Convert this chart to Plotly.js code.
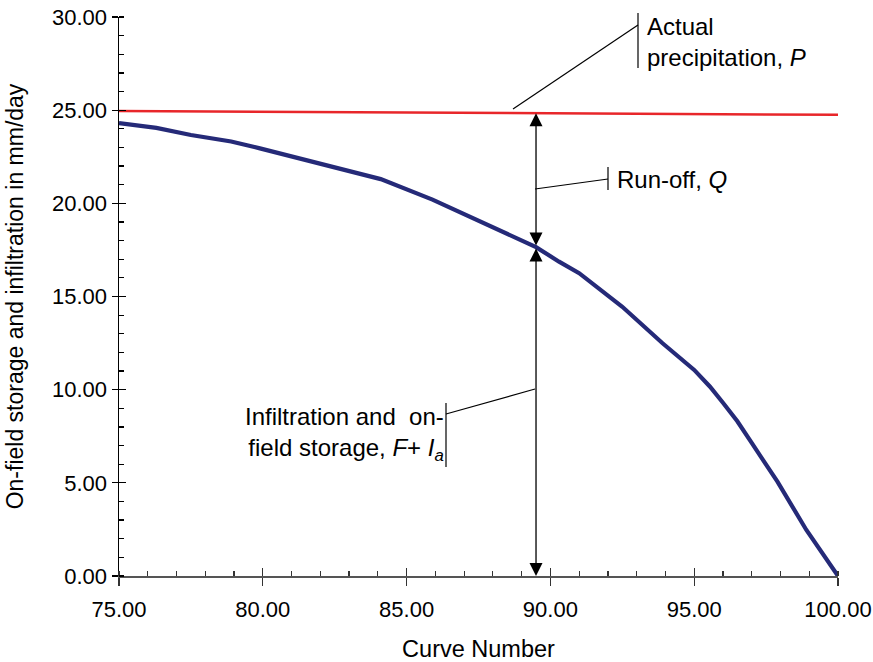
<!DOCTYPE html>
<html>
<head>
<meta charset="utf-8">
<script src="https://cdn.plot.ly/plotly-3.0.1.min.js"></script>
<style>html,body{margin:0;padding:0;background:#fff;}#chart{width:873px;height:662px;}</style>
</head>
<body>
<div id="chart"></div>
<script>
// ---- data ----
const curveNumber = [75, 76.3, 77.5, 78.9, 79.9, 82.0, 84.1, 85.9, 87.8, 89.5, 90.3, 91.0, 92.5, 93.9, 95.0, 95.55, 96.0, 96.5, 97.0, 97.9, 98.9, 100];
const infiltration = [24.31, 24.05, 23.67, 23.32, 22.95, 22.15, 21.3, 20.2, 18.84, 17.65, 16.87, 16.25, 14.45, 12.49, 11.06, 10.16, 9.3, 8.3, 7.14, 5.05, 2.47, 0];
const precipX = [75, 100];
const precipY = [24.95, 24.75];
const markerCN = 89.5;
const xTickLabels = ['75.00', '80.00', '85.00', '90.00', '95.00', '100.00'];
const yTickLabels = ['0.00', '5.00', '10.00', '15.00', '20.00', '25.00', '30.00'];

function interp(xs, ys, x) {
  for (let i = 0; i < xs.length - 1; i++) {
    if (x >= xs[i] && x <= xs[i + 1]) {
      const t = (x - xs[i]) / (xs[i + 1] - xs[i]);
      return ys[i] + t * (ys[i + 1] - ys[i]);
    }
  }
  return ys[ys.length - 1];
}
const curveAtMarker = interp(curveNumber, infiltration, markerCN);
const pAtMarker = interp(precipX, precipY, markerCN);

const FONT = '"Liberation Sans", Arial, Helvetica, sans-serif';
const px = v => (v - 119) / 719;      // pixel -> paper x
const py = v => (576 - v) / 559;      // pixel -> paper y

const traces = [
  {x: precipX, y: precipY, type: 'scatter', mode: 'lines', line: {color: '#e8262a', width: 2.5}, hoverinfo: 'skip'},
  {x: curveNumber, y: infiltration, type: 'scatter', mode: 'lines', line: {color: '#252a78', width: 4.2}, hoverinfo: 'skip'},
  {x: [], y: [], xaxis: 'x2', yaxis: 'y', type: 'scatter', showlegend: false},
  {x: [], y: [], xaxis: 'x', yaxis: 'y2', type: 'scatter', showlegend: false}
];

const xVals = xTickLabels.map(Number);
const yVals = yTickLabels.map(Number);

const lineBlack = {color: '#000', width: 1.2};
const shapes = [
  // Precipitation callout
  {type: 'line', xref: 'paper', yref: 'paper', x0: px(638), x1: px(638), y0: py(13), y1: py(68), line: lineBlack},
  {type: 'line', xref: 'paper', yref: 'paper', x0: px(513), y0: py(109), x1: px(638), y1: py(25), line: lineBlack},
  // Run-off callout
  {type: 'line', xref: 'paper', yref: 'paper', x0: px(608), x1: px(608), y0: py(167), y1: py(190), line: lineBlack},
  {type: 'line', xref: 'paper', yref: 'paper', x0: px(535), y0: py(189), x1: px(608), y1: py(179), line: lineBlack},
  // Infiltration callout
  {type: 'line', xref: 'paper', yref: 'paper', x0: px(446), x1: px(446), y0: py(403), y1: py(467), line: lineBlack},
  {type: 'line', xref: 'paper', yref: 'paper', x0: px(446), y0: py(414), x1: px(535), y1: py(389), line: lineBlack}
];

const annFont = {family: FONT, size: 24, color: '#000'};
const annotations = [
  // Run-off arrow (curve -> P)
  {x: markerCN, y: pAtMarker, ax: markerCN, ay: curveAtMarker, xref: 'x', yref: 'y', axref: 'x', ayref: 'y',
   text: '', showarrow: true, arrowhead: 2, arrowside: 'end+start', arrowsize: 2, arrowwidth: 1.3, arrowcolor: '#000', standoff: 0, startstandoff: 0},
  // Infiltration arrow (0 -> curve)
  {x: markerCN, y: 0, ax: markerCN, ay: curveAtMarker, xref: 'x', yref: 'y', axref: 'x', ayref: 'y',
   text: '', showarrow: true, arrowhead: 2, arrowside: 'end+start', arrowsize: 2, arrowwidth: 1.3, arrowcolor: '#000', standoff: 0, startstandoff: 0},
  {xref: 'paper', yref: 'paper', x: px(645), y: py(42), xanchor: 'left', yanchor: 'middle', align: 'left', showarrow: false,
   text: 'Actual<br>precipitation, <i>P</i>', font: annFont},
  {xref: 'paper', yref: 'paper', x: px(615), y: py(179), xanchor: 'left', yanchor: 'middle', align: 'left', showarrow: false,
   text: 'Run-off, <i>Q</i>', font: annFont},
  {xref: 'paper', yref: 'paper', x: px(446), y: py(434), xanchor: 'right', yanchor: 'middle', align: 'right', showarrow: false,
   text: 'Infiltration and  on-<br>field storage, <i>F</i>+ <i>I<sub>a</sub></i>', font: annFont}
];

const layout = {
  width: 873, height: 662,
  margin: {l: 119, r: 35, t: 17, b: 86},
  paper_bgcolor: '#fff', plot_bgcolor: '#fff',
  showlegend: false,
  font: {family: FONT, color: '#000'},
  xaxis: {
    range: [75, 100], tickmode: 'array', tickvals: xVals, ticktext: xTickLabels,
    ticks: 'outside', ticklen: 8, tickwidth: 1.2, tickcolor: '#333',
    showline: true, linecolor: '#555', linewidth: 1.8,
    showgrid: false, zeroline: false,
    tickfont: {family: FONT, size: 22, color: '#000'},
    ticklabelstandoff: 5,
    minor: {dtick: 1, tick0: 75, ticks: 'inside', ticklen: 5, tickwidth: 1.2, tickcolor: '#333', showgrid: false},
    title: {text: 'Curve Number', font: {family: FONT, size: 23.5, color: '#000'}, standoff: 22},
    automargin: false, fixedrange: true
  },
  xaxis2: {
    overlaying: 'x', anchor: 'y', side: 'bottom', range: [75, 100], tickmode: 'array', tickvals: xVals,
    ticks: 'inside', ticklen: 8, tickwidth: 1.2, tickcolor: '#333', showticklabels: false,
    showline: false, showgrid: false, zeroline: false, fixedrange: true
  },
  yaxis: {
    range: [0, 30], tickmode: 'array', tickvals: yVals, ticktext: yTickLabels,
    ticks: 'outside', ticklen: 6, tickwidth: 1.2, tickcolor: '#000',
    showline: true, linecolor: '#000', linewidth: 1.5,
    showgrid: false, zeroline: false,
    tickfont: {family: FONT, size: 22, color: '#000'},
    ticklabelstandoff: 0,
    minor: {dtick: 1, tick0: 0, ticks: 'inside', ticklen: 5, tickwidth: 1.2, tickcolor: '#000', showgrid: false},
    title: {text: 'On-field storage and infiltration in mm/day', font: {family: FONT, size: 23, color: '#000'}, standoff: 22},
    automargin: false, fixedrange: true
  },
  yaxis2: {
    overlaying: 'y', anchor: 'x', side: 'left', range: [0, 30], tickmode: 'array', tickvals: yVals,
    ticks: 'inside', ticklen: 7, tickwidth: 1.2, tickcolor: '#000', showticklabels: false,
    showline: false, showgrid: false, zeroline: false, fixedrange: true
  },
  shapes: shapes,
  annotations: annotations
};

Plotly.newPlot('chart', traces, layout, {displayModeBar: false, staticPlot: true});
</script>
</body>
</html>
